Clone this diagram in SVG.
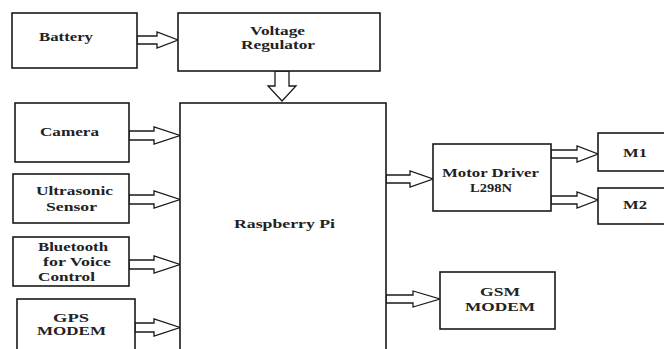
<svg xmlns="http://www.w3.org/2000/svg" width="664" height="349" viewBox="0 0 664 349">
<style>
.box{fill:#fff;stroke:#1a1a1a;stroke-width:1.6}
.arr{fill:#fff;stroke:#1a1a1a;stroke-width:1.3;stroke-linejoin:miter}
.t{font-family:"Liberation Serif","Times New Roman",serif;font-weight:bold;font-size:12px;fill:#222}
</style>
<rect width="664" height="349" fill="#fff"/>
<g id="connectors">
<polygon class="arr" points="137,36 157,36 157,32 178,40 157,48 157,44 137,44"/>
<polygon class="arr" points="275,71 289,71 289,86 296,86 282,101 268,86 275,86"/>
<polygon class="arr" points="129,131 154,131 154,127 180,135.5 154,144 154,140 129,140"/>
<polygon class="arr" points="129,195 154,195 154,191 180,199.5 154,208 154,204 129,204"/>
<polygon class="arr" points="129,260 154,260 154,256 180,264.5 154,273 154,269 129,269"/>
<polygon class="arr" points="135,323 154,323 154,319 180,327.5 154,336 154,332 135,332"/>
<polygon class="arr" points="386,175 410,175 410,171 433,179 410,187 410,183 386,183"/>
<polygon class="arr" points="551,150 577,150 577,146 598,154 577,162 577,158 551,158"/>
<polygon class="arr" points="551,196 577,196 577,192 598,200 577,208 577,204 551,204"/>
<polygon class="arr" points="386,295 413,295 413,291 440,299 413,307 413,303 386,303"/>
</g>
<g id="battery">
<rect class="box" x="12" y="13" width="125" height="55"/>
<text class="t" x="39" y="41" textLength="54" lengthAdjust="spacingAndGlyphs">Battery</text>
</g>
<g id="voltage-regulator">
<rect class="box" x="178" y="13" width="202" height="58"/>
<text class="t" x="250" y="35" textLength="55" lengthAdjust="spacingAndGlyphs">Voltage</text>
<text class="t" x="241" y="49" textLength="74" lengthAdjust="spacingAndGlyphs">Regulator</text>
</g>
<g id="raspberry-pi">
<rect class="box" x="180" y="103" width="206" height="252"/>
<text class="t" x="234" y="228" textLength="101" lengthAdjust="spacingAndGlyphs">Raspberry Pi</text>
</g>
<g id="camera">
<rect class="box" x="15" y="103" width="114" height="59"/>
<text class="t" x="40" y="136" textLength="59" lengthAdjust="spacingAndGlyphs">Camera</text>
</g>
<g id="ultrasonic">
<rect class="box" x="13" y="174" width="116" height="49"/>
<text class="t" x="36" y="195" textLength="77" lengthAdjust="spacingAndGlyphs">Ultrasonic</text>
<text class="t" x="46" y="211" textLength="51" lengthAdjust="spacingAndGlyphs">Sensor</text>
</g>
<g id="bluetooth">
<rect class="box" x="13" y="237" width="116" height="49"/>
<text class="t" x="38" y="251" textLength="70" lengthAdjust="spacingAndGlyphs">Bluetooth</text>
<text class="t" x="43" y="266" textLength="68" lengthAdjust="spacingAndGlyphs">for Voice</text>
<text class="t" x="38" y="281" textLength="57" lengthAdjust="spacingAndGlyphs">Control</text>
</g>
<g id="gps">
<rect class="box" x="17" y="299" width="118" height="56"/>
<text class="t" x="53" y="322" textLength="36" lengthAdjust="spacingAndGlyphs">GPS</text>
<text class="t" x="37" y="335" textLength="69" lengthAdjust="spacingAndGlyphs">MODEM</text>
</g>
<g id="motor-driver">
<rect class="box" x="433" y="144" width="118" height="67"/>
<text class="t" x="442" y="177" textLength="97" lengthAdjust="spacingAndGlyphs">Motor Driver</text>
<text class="t" x="470" y="192" textLength="42" lengthAdjust="spacingAndGlyphs">L298N</text>
</g>
<g id="m1">
<rect class="box" x="598" y="133" width="70" height="38"/>
<text class="t" x="623" y="157" textLength="24" lengthAdjust="spacingAndGlyphs">M1</text>
</g>
<g id="m2">
<rect class="box" x="598" y="188" width="70" height="36"/>
<text class="t" x="623" y="209" textLength="24" lengthAdjust="spacingAndGlyphs">M2</text>
</g>
<g id="gsm">
<rect class="box" x="440" y="272" width="115" height="57"/>
<text class="t" x="480" y="296" textLength="40" lengthAdjust="spacingAndGlyphs">GSM</text>
<text class="t" x="465" y="311" textLength="70" lengthAdjust="spacingAndGlyphs">MODEM</text>
</g>
</svg>
